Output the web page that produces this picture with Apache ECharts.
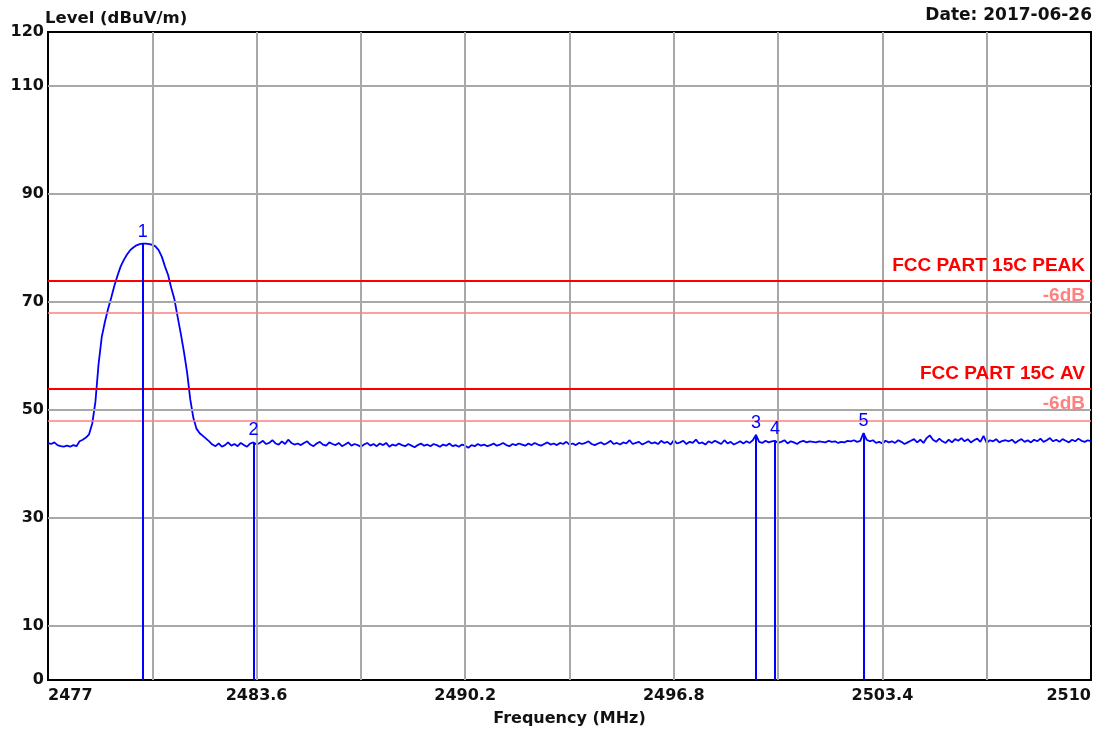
<!DOCTYPE html>
<html>
<head>
<meta charset="utf-8">
<script src="https://cdn.jsdelivr.net/npm/echarts@6/dist/echarts.min.js"></script>
<style>
  html, body { margin: 0; padding: 0; background: #fff; }
  #chart { width: 1114px; height: 736px; }
</style>
</head>
<body>
<div id="chart"></div>
<script>
// 扫频数据：2477 MHz 起，每 0.1 MHz 一个点
var freqStart = 2477
var freqStep = 0.1
var levels = [
  43.9, 43.7, 44.0, 43.5, 43.3, 43.2, 43.4, 43.2, 43.5, 43.3,
  44.2, 44.5, 44.9, 45.5, 47.5, 51.5, 58.5, 63.5, 66.3, 68.7,
  70.8, 73.0, 74.9, 76.6, 77.8, 78.8, 79.6, 80.1, 80.5, 80.7,
  80.8, 80.8, 80.7, 80.6, 80.3, 79.6, 78.4, 76.6, 75.0, 72.6,
  70.5, 67.3, 64.2, 60.8, 57.0, 52.0, 48.5, 46.5, 45.7, 45.2,
  44.7, 44.2, 43.6, 43.3, 43.8, 43.2, 43.5, 44.0, 43.4, 43.7,
  43.3, 43.9, 43.5, 43.2, 43.8, 44.0, 43.6, 43.9, 44.3, 43.7,
  43.9, 44.4, 43.8, 43.6, 44.2, 43.7, 44.5, 43.9, 43.6, 43.8,
  43.5, 43.9, 44.2, 43.6, 43.3, 43.8, 44.1, 43.6, 43.4, 44.0,
  43.7, 43.5, 43.9, 43.3, 43.6, 44.0, 43.4, 43.7, 43.5, 43.2,
  43.6, 43.9, 43.4, 43.7, 43.3, 43.8, 43.5, 43.9, 43.2, 43.6,
  43.4, 43.8, 43.5, 43.3, 43.7, 43.4, 43.1, 43.5, 43.8, 43.4,
  43.6, 43.3, 43.7, 43.5, 43.2, 43.6, 43.4, 43.8, 43.3, 43.5,
  43.2, 43.6, 43.4, 43.0, 43.5, 43.3, 43.7, 43.4, 43.6, 43.3,
  43.5, 43.8, 43.4, 43.6, 43.9, 43.5, 43.3, 43.7, 43.5, 43.8,
  43.6, 43.4, 43.8, 43.5, 43.9, 43.6, 43.4, 43.7, 44.0, 43.6,
  43.8, 43.5, 43.9, 43.7, 44.1, 43.6, 43.8, 43.5, 43.9, 43.7,
  43.9, 44.2, 43.7, 43.5, 43.8, 44.0, 43.6, 43.9, 44.3, 43.7,
  43.9, 43.6, 44.0, 43.8, 44.4, 43.7, 43.9, 44.1, 43.6, 43.9,
  44.2, 43.8, 44.0, 43.7, 44.3, 43.9, 44.1, 43.6, 44.4, 43.8,
  44.0, 44.3, 43.7, 44.1, 43.9, 44.5, 43.8, 44.0, 43.6, 44.2,
  43.9, 44.3, 44.0, 43.7, 44.4, 43.8, 44.1, 43.6, 43.9, 44.2,
  43.8, 44.2, 43.9, 44.4, 45.4, 44.1, 43.9, 44.3, 44.0, 44.2,
  44.3, 43.9, 44.1, 44.4, 43.8, 44.2, 44.0, 43.7, 44.1, 44.3,
  44.0, 44.2, 44.1, 44.0, 44.2, 44.1, 44.0, 44.3, 44.1, 44.2,
  43.9, 44.1, 44.0, 44.3, 44.2, 44.4, 44.1, 44.3, 45.7, 44.5,
  44.2, 44.4, 43.9, 44.1, 43.8, 44.3, 44.0, 44.2, 43.9, 44.4,
  44.1, 43.7, 44.0, 44.3, 44.6, 44.0, 44.5, 43.9, 44.8, 45.3,
  44.5, 44.1, 44.7, 44.2, 43.9, 44.5, 44.0, 44.6, 44.3, 44.8,
  44.2, 44.6, 44.0, 44.4, 44.7, 44.1, 45.2, 43.9, 44.4, 44.2,
  44.6, 44.0, 44.3, 44.4, 44.2, 44.5, 43.9, 44.3, 44.6, 44.1,
  44.4, 44.0, 44.5, 44.2, 44.7, 44.1, 44.4, 44.8, 44.2, 44.5,
  44.1, 44.6, 44.3, 44.0, 44.5, 44.2, 44.7, 44.3, 44.1, 44.4,
  44.2
]

// 标记点
var markerFreqs = [2480.0, 2483.5, 2499.4, 2500.0, 2502.8]
var markerLevels = [80.8, 44.0, 45.4, 44.3, 45.7]

// 限值线
var limitNames = ['FCC PART 15C PEAK', '-6dB', 'FCC PART 15C AV', '-6dB']
var limitValues = [74, 68, 54, 48]

// 坐标轴刻度
var xTickLabels = [2477, 2483.6, 2490.2, 2496.8, 2503.4, 2510]
var xGridLines = [2480.3, 2483.6, 2486.9, 2490.2, 2493.5, 2496.8, 2500.1, 2503.4, 2506.7]
var yTickLabels = [0, 10, 30, 50, 70, 90, 110, 120]
var yGridLines = [10, 30, 50, 70, 90, 110]

var trace = levels.map(function (v, i) {
  return [+(freqStart + i * freqStep).toFixed(1), v]
})

var blue = '#0000ff'
var gridColor = '#a8a8a8'
var labelFont = { fontFamily: 'DejaVu Sans', fontWeight: 'bold', fontSize: 16, color: '#111' }

var gridMarks = yGridLines.map(function (v) { return { yAxis: v } })
  .concat(xGridLines.map(function (v) { return { xAxis: v } }))

var limitMarks = limitValues.map(function (v, i) {
  var main = i % 2 === 0
  return {
    yAxis: v,
    lineStyle: { color: main ? '#ff0000' : '#ff8080', width: main ? 2 : 1.5, type: 'solid' },
    label: {
      show: true,
      position: 'insideEndTop',
      formatter: limitNames[i],
      color: main ? '#ff0000' : '#ff8080',
      fontFamily: 'Liberation Sans',
      fontWeight: 'bold',
      fontSize: 19,
      distance: main ? [6, 5] : [6, 8]
    }
  }
})

var markerMarks = markerFreqs.map(function (f, i) {
  return [
    { coord: [f, 0] },
    {
      coord: [f, markerLevels[i]],
      label: {
        show: true,
        position: 'end',
        formatter: String(i + 1),
        color: blue,
        fontFamily: 'Liberation Sans',
        fontSize: 18,
        distance: 3
      }
    }
  ]
})

var myChart = echarts.init(document.getElementById('chart'))
var option = {
  animation: false,
  backgroundColor: '#fff',
  title: [
    {
      text: 'Level (dBuV/m)',
      left: 45, top: 10, padding: 0,
      textStyle: { fontFamily: 'DejaVu Sans', fontWeight: 'bold', fontSize: 16.5, color: '#111' }
    },
    {
      text: 'Date: 2017-06-26',
      right: 22, top: 7, padding: 0,
      textStyle: { fontFamily: 'DejaVu Sans', fontWeight: 'bold', fontSize: 17, color: '#111' }
    }
  ],
  grid: {
    left: 48, right: 23, top: 32, bottom: 56,
    show: true, borderColor: '#000', borderWidth: 2, backgroundColor: '#fff'
  },
  xAxis: {
    type: 'value',
    min: 2477,
    max: 2510,
    name: 'Frequency (MHz)',
    nameLocation: 'middle',
    nameGap: 31,
    nameTextStyle: { fontFamily: 'DejaVu Sans', fontWeight: 'bold', fontSize: 16, color: '#111' },
    axisLine: { lineStyle: { color: '#000', width: 2 } },
    axisTick: { show: false },
    splitLine: { show: false },
    axisLabel: Object.assign({
      customValues: xTickLabels,
      margin: 8,
      alignMinLabel: 'left',
      alignMaxLabel: 'right',
      formatter: function (v) { return String(+v.toFixed(1)) }
    }, labelFont)
  },
  yAxis: {
    type: 'value',
    min: 0,
    max: 120,
    interval: 10,
    axisLine: { show: true, lineStyle: { color: '#000', width: 2 } },
    axisTick: { show: false },
    splitLine: { show: false },
    axisLabel: Object.assign({
      customValues: yTickLabels,
      margin: 4
    }, labelFont)
  },
  series: [
    {
      type: 'line',
      data: [],
      silent: true,
      z: 1,
      markLine: {
        silent: true,
        symbol: ['none', 'none'],
        animation: false,
        label: { show: false },
        lineStyle: { color: gridColor, width: 2, type: 'solid' },
        data: gridMarks
      }
    },
    {
      type: 'line',
      data: [],
      silent: true,
      z: 2,
      markLine: {
        silent: true,
        symbol: ['none', 'none'],
        animation: false,
        data: limitMarks
      }
    },
    {
      type: 'line',
      data: trace,
      showSymbol: false,
      silent: true,
      z: 3,
      lineStyle: { color: blue, width: 1.8 },
      markLine: {
        silent: true,
        symbol: ['none', 'none'],
        animation: false,
        lineStyle: { color: blue, width: 2, type: 'solid' },
        data: markerMarks
      }
    }
  ]
}
myChart.setOption(option)
</script>
</body>
</html>
